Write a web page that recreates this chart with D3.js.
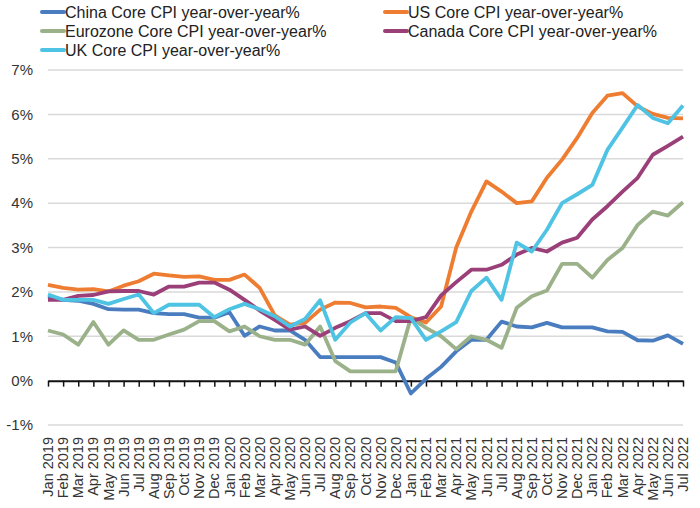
<!DOCTYPE html>
<html>
<head>
<meta charset="utf-8">
<script src="https://cdn.jsdelivr.net/npm/d3@7"></script>
<style>
  body { margin: 0; background: #fff; }
  svg { font-family: "Liberation Sans", Arial, sans-serif; }
</style>
</head>
<body>
<div id="chart"></div>
<script>
const months = [
  'Jan 2019', 'Feb 2019', 'Mar 2019', 'Apr 2019', 'May 2019', 'Jun 2019', 'Jul 2019', 'Aug 2019',
  'Sep 2019', 'Oct 2019', 'Nov 2019', 'Dec 2019', 'Jan 2020', 'Feb 2020', 'Mar 2020', 'Apr 2020',
  'May 2020', 'Jun 2020', 'Jul 2020', 'Aug 2020', 'Sep 2020', 'Oct 2020', 'Nov 2020', 'Dec 2020',
  'Jan 2021', 'Feb 2021', 'Mar 2021', 'Apr 2021', 'May 2021', 'Jun 2021', 'Jul 2021', 'Aug 2021',
  'Sep 2021', 'Oct 2021', 'Nov 2021', 'Dec 2021', 'Jan 2022', 'Feb 2022', 'Mar 2022', 'Apr 2022',
  'May 2022', 'Jun 2022', 'Jul 2022'
];

const china = [
  1.9, 1.82, 1.8, 1.73, 1.61, 1.6, 1.6, 1.52, 1.5, 1.5, 1.42, 1.42, 1.54, 1.01, 1.22, 1.13,
  1.13, 0.92, 0.53, 0.53, 0.53, 0.53, 0.53, 0.41, -0.29, 0.04, 0.31, 0.66, 0.92, 0.92, 1.33, 1.22,
  1.2, 1.3, 1.2, 1.2, 1.2, 1.11, 1.1, 0.91, 0.9, 1.02, 0.83
];
const us = [
  2.16, 2.09, 2.05, 2.06, 2.01, 2.14, 2.24, 2.41, 2.37, 2.34, 2.35, 2.27, 2.27, 2.39, 2.09, 1.47,
  1.26, 1.3, 1.6, 1.76, 1.75, 1.65, 1.67, 1.64, 1.43, 1.31, 1.67, 3.0, 3.81, 4.49, 4.26, 4.0,
  4.04, 4.57, 4.98, 5.47, 6.03, 6.42, 6.48, 6.18, 6.01, 5.92, 5.91
];
const eurozone = [
  1.13, 1.04, 0.81, 1.32, 0.81, 1.13, 0.92, 0.92, 1.04, 1.15, 1.34, 1.34, 1.11, 1.22, 1.0, 0.92,
  0.92, 0.81, 1.22, 0.44, 0.21, 0.21, 0.21, 0.21, 1.42, 1.19, 1.0, 0.71, 1.0, 0.92, 0.74, 1.64,
  1.9, 2.03, 2.63, 2.63, 2.32, 2.72, 2.99, 3.51, 3.81, 3.72, 4.02
];
const canada = [
  1.82, 1.82, 1.91, 1.93, 2.01, 2.02, 2.02, 1.94, 2.12, 2.12, 2.21, 2.21, 2.05, 1.82, 1.58, 1.37,
  1.15, 1.22, 1.01, 1.19, 1.34, 1.52, 1.52, 1.34, 1.34, 1.43, 1.92, 2.22, 2.5, 2.5, 2.61, 2.84,
  2.99, 2.91, 3.11, 3.22, 3.63, 3.93, 4.26, 4.57, 5.09, 5.29, 5.5
];
const uk = [
  1.94, 1.82, 1.82, 1.82, 1.73, 1.84, 1.94, 1.52, 1.71, 1.71, 1.71, 1.43, 1.61, 1.73, 1.61, 1.45,
  1.22, 1.39, 1.81, 0.92, 1.31, 1.52, 1.13, 1.43, 1.41, 0.92, 1.11, 1.32, 2.02, 2.32, 1.82, 3.11,
  2.91, 3.4, 4.0, 4.2, 4.41, 5.2, 5.7, 6.21, 5.92, 5.8, 6.2
];

const yTicks = [-1, 0, 1, 2, 3, 4, 5, 6, 7];

// drawing order follows the picture: later series sit on top
const series = [
  { name: 'China Core CPI year-over-year%', values: china, color: '#4a7dbf' },
  { name: 'US Core CPI year-over-year%', values: us, color: '#ee7d31' },
  { name: 'Eurozone Core CPI year-over-year%', values: eurozone, color: '#9bb18a' },
  { name: 'Canada Core CPI year-over-year%', values: canada, color: '#9a3f78' },
  { name: 'UK Core CPI year-over-year%', values: uk, color: '#4fc3e3' }
];

const width = 700;
const height = 508;
const margin = { top: 70, right: 17, bottom: 83, left: 48 };

const svg = d3.select('#chart')
  .append('svg')
  .attr('width', width)
  .attr('height', height);

const xScale = d3.scalePoint()
  .domain(months)
  .range([margin.left, width - margin.right]);

const yScale = d3.scaleLinear()
  .domain([-1, 7])
  .range([height - margin.bottom, margin.top]);

// Horizontal grid lines
svg.selectAll('.grid-line')
  .data(yTicks.filter((d) => d !== 0))
  .enter()
  .append('line')
  .attr('class', 'grid-line')
  .attr('x1', margin.left)
  .attr('x2', width - margin.right)
  .attr('y1', (d) => yScale(d))
  .attr('y2', (d) => yScale(d))
  .attr('stroke', '#d9d9d9')
  .attr('stroke-width', 1.5);

// Y labels
svg.selectAll('.y-label')
  .data(yTicks)
  .enter()
  .append('text')
  .attr('class', 'y-label')
  .attr('x', 33)
  .attr('y', (d) => yScale(d))
  .attr('dy', '0.35em')
  .attr('text-anchor', 'end')
  .style('font-size', '15px')
  .style('fill', '#333')
  .text((d) => d + '%');

// X axis on the zero line, ticks pointing down
const xAxis = svg.append('g')
  .attr('class', 'x-axis')
  .attr('transform', `translate(0,${yScale(0)})`)
  .call(d3.axisBottom(xScale).tickSize(6).tickSizeOuter(0).tickFormat(''));

xAxis.select('.domain')
  .attr('stroke', '#111')
  .attr('stroke-width', 2);
xAxis.selectAll('.tick line')
  .attr('stroke', '#111')
  .attr('stroke-width', 1.5);

// Rotated month labels under the -1% line
svg.selectAll('.x-label')
  .data(months)
  .enter()
  .append('text')
  .attr('class', 'x-label')
  .attr('transform', (d) => `translate(${xScale(d)},437) rotate(-90)`)
  .attr('dy', '0.35em')
  .attr('text-anchor', 'end')
  .style('font-size', '14.5px')
  .style('fill', '#333')
  .text((d) => d);

// Lines
const line = d3.line()
  .x((d, i) => xScale(months[i]))
  .y((d) => yScale(d));

svg.selectAll('.series-line')
  .data(series)
  .enter()
  .append('path')
  .attr('class', 'series-line')
  .attr('fill', 'none')
  .attr('stroke', (d) => d.color)
  .attr('stroke-width', 3.8)
  .attr('stroke-linejoin', 'round')
  .attr('d', (d) => line(d.values));

// Legend, two columns
const legendPos = [
  [42, 12], [385, 12],
  [42, 31], [385, 31],
  [42, 50]
];

const legend = svg.selectAll('.legend-item')
  .data(series)
  .enter()
  .append('g')
  .attr('class', 'legend-item')
  .attr('transform', (d, i) => `translate(${legendPos[i][0]},${legendPos[i][1]})`);

legend.append('line')
  .attr('x1', 0)
  .attr('x2', 22)
  .attr('stroke', (d) => d.color)
  .attr('stroke-width', 4)
  .attr('stroke-linecap', 'round');

legend.append('text')
  .attr('x', 23)
  .attr('dy', '0.35em')
  .style('font-size', '16px')
  .style('fill', '#222')
  .text((d) => d.name);
</script>
</body>
</html>
